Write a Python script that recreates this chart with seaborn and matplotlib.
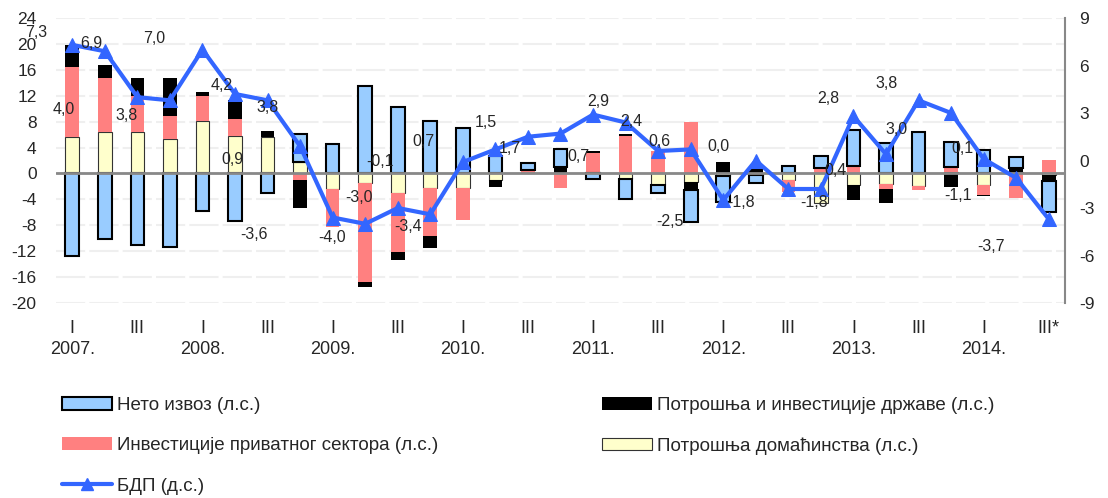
import numpy as np
import pandas as pd
import seaborn as sns
import matplotlib.pyplot as plt
from matplotlib.patches import Patch
from matplotlib.lines import Line2D

# quarters 2007 Q1 .. 2014 Q3
quarters = ['I', 'II', 'III', 'IV'] * 7 + ['I', 'II', 'III*']
years = ['2007.', '2008.', '2009.', '2010.', '2011.', '2012.', '2013.', '2014.']

# contributions (left axis, p.p.)
households = [5.7, 6.4, 6.4, 5.3, 8.1, 5.8, 5.7, 1.75, -2.4, -1.5, -3.0, -2.3, -2.2, -1.0, 0.1, 0.0,
              0.3, -0.9, -1.75, -1.35, -0.4, -0.3, -1.0, -4.6, -1.75, -1.6, -2.0, 0.3, -1.75, 0.2, -0.2]
private_inv = [10.8, 8.3, 5.5, 3.5, 3.9, 2.6, 0.0, -1.0, -5.9, -15.2, -9.1, -7.3, -5.0, 0.0, 0.5, -2.3,
               2.8, 5.85, 3.4, 8.0, 0.0, 0.0, -1.8, 0.8, 1.2, -0.8, -0.5, 0.7, -1.55, -3.8, 2.1]
government = [3.4, 2.0, 2.9, 6.0, 0.6, 3.0, 0.9, -4.4, 0.0, -0.8, -1.2, -1.9, 0.0, -1.1, 0.0, 1.0,
              0.3, 0.2, 0.1, -1.2, 1.75, 1.2, 0.0, 0.0, -2.3, -2.1, 0.0, -2.1, -0.25, 0.6, -1.0]
net_exports = [-12.8, -10.1, -11.0, -11.3, -5.8, -7.3, -3.0, 4.35, 4.5, 13.5, 10.2, 8.1, 7.0, 2.7, 1.0, 2.8,
               -0.8, -3.0, -1.3, -5.0, -4.0, -1.1, 1.1, 1.9, 5.5, 4.7, 6.35, 3.9, 3.65, 1.8, -4.8]

# GDP growth (right axis, %)
gdp = [7.3, 6.9, 4.0, 3.8, 7.0, 4.2, 3.8, 0.9, -3.6, -4.0, -3.0, -3.4, -0.1, 0.7, 1.5, 1.7,
       2.9, 2.4, 0.6, 0.7, -2.5, 0.0, -1.8, -1.8, 2.8, 0.4, 3.8, 3.0, 0.1, -1.1, -3.7]

# where the data labels sit relative to their point (pixels, y downwards)
label_shift = [(-36, -12), (-14, -8), (-74, 12), (-43, 15), (-48, -11), (-13, -9), (0, 7), (-68, 13),
               (-79, 17), (-33, 14), (-39, -11), (-22, 12), (-83, -1), (-72, -8), (-42, -14), (-51, 15),
               (5, -13), (6, -1), (1, -10), (-112, 7), (-53, 21), (-37, -14), (-47, 13), (-7, 13),
               (-25, -18), (-50, 16), (-32, -17), (-55, 16), (-21, -10), (-58, 18), (-58, 27)]

series = [
    ('Потрошња домаћинства (л.с.)', households, '#FFFFCC', '#333333', 0.8),
    ('Инвестиције приватног сектора (л.с.)', private_inv, '#FF8080', 'none', 0),
    ('Потрошња и инвестиције државе (л.с.)', government, '#000000', 'none', 0),
    ('Нето извоз (л.с.)', net_exports, '#99CCFF', '#000000', 1.5),
]

df = pd.DataFrame({'x': np.arange(len(gdp)), 'gdp': gdp})

sns.set_style('white')
plt.rcParams['font.family'] = ['Liberation Sans', 'DejaVu Sans']
plt.rcParams['axes.unicode_minus'] = False

fig = plt.figure(figsize=(11.08, 4.98), dpi=100)
ax = fig.add_axes([56 / 1108, 1 - 303 / 498, 1009 / 1108, 285 / 498])

x = np.arange(len(gdp))
pos_base = np.zeros(len(x))
neg_base = np.zeros(len(x))
for name, vals, fc, ec, lw in series:
    v = np.array(vals)
    base = np.where(v >= 0, pos_base, neg_base)
    ax.bar(x, v, bottom=base, width=0.42, color=fc, edgecolor=ec, linewidth=lw, zorder=2)
    pos_base += np.where(v >= 0, v, 0)
    neg_base += np.where(v < 0, v, 0)

ax.axhline(0, color='#888888', lw=2, zorder=3)
ax.set_xlim(-0.5, len(x) - 0.5)
ax.set_ylim(-20, 24)
ax.set_yticks(np.arange(-20, 25, 4))
ax.yaxis.grid(True, color='#EFEFEF', lw=1.5, linestyle=(0, (14, 2)), zorder=0)
ax.set_axisbelow(True)

xt = []
for i, q in enumerate(quarters):
    if q == 'I':
        xt.append('I\n' + years[i // 4])
    elif q.startswith('III'):
        xt.append(q)
    else:
        xt.append('')
ax.set_xticks(x)
ax.set_xticklabels(xt, fontsize=13, va='top', linespacing=1.3)
ax.tick_params(axis='x', length=0, pad=12)
ax.tick_params(axis='y', length=0, pad=14, labelsize=12.5)
for s in ax.spines.values():
    s.set_visible(False)

ax2 = ax.twinx()
sns.lineplot(data=df, x='x', y='gdp', ax=ax2, color='#3366FF', lw=3, marker='^',
             markersize=10, markeredgecolor='#3366FF', zorder=4)
ax2.set_ylim(-9, 9)
ax2.set_yticks(np.arange(-9, 10, 3))
ax2.set_ylabel('')
ax2.set_xlabel('')
ax.set_xlabel('')
ax2.tick_params(axis='y', length=0, pad=10, labelsize=12.5)
for k, s in ax2.spines.items():
    s.set_visible(k == 'right')
ax2.spines['right'].set_color('#888888')
ax2.spines['right'].set_linewidth(1.5)

for i, v in enumerate(gdp):
    dx, dy = label_shift[i]
    ax2.annotate(f'{v:.1f}'.replace('.', ','), (i, v), xytext=(dx * 0.72, -dy * 0.72),
                 textcoords='offset points', ha='center', va='center', fontsize=11.5, zorder=5)

handles = [
    Patch(facecolor='#99CCFF', edgecolor='#000000', linewidth=1.5),
    Patch(facecolor='#FF8080', edgecolor='none'),
    Line2D([], [], color='#3366FF', lw=3, marker='^', markersize=8),
    Patch(facecolor='#000000', edgecolor='none'),
    Patch(facecolor='#FFFFCC', edgecolor='#333333', linewidth=0.8),
]
labels = ['Нето извоз (л.с.)', 'Инвестиције приватног сектора (л.с.)', 'БДП (д.с.)',
          'Потрошња и инвестиције државе (л.с.)', 'Потрошња домаћинства (л.с.)']
fig.legend(handles, labels, ncol=2, loc='upper left', bbox_to_anchor=(62 / 1108, 1 - 397 / 498),
           frameon=False, fontsize=13.5, handlelength=2.67, handleheight=0.65, handletextpad=0.27,
           labelspacing=1.24, columnspacing=8.7, borderaxespad=0, borderpad=0)

fig.savefig('out.png', dpi=100)
